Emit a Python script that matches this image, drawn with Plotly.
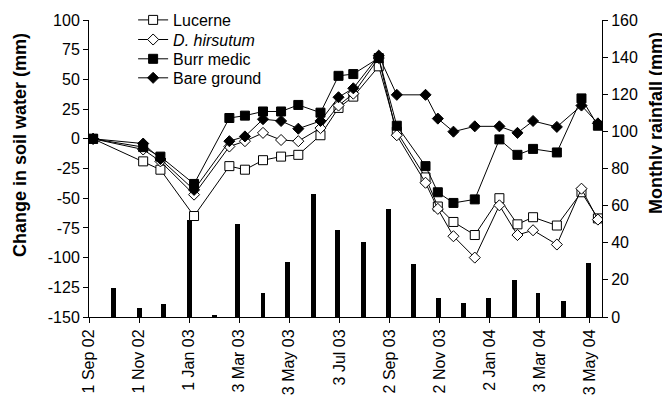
import plotly.graph_objects as go

# ---- data ----
line_dates = ["2002-09-06", "2002-11-06", "2002-11-27", "2003-01-07", "2003-02-19",
              "2003-03-10", "2003-04-01", "2003-04-23", "2003-05-14", "2003-06-10",
              "2003-07-02", "2003-07-20", "2003-08-20", "2003-09-11", "2003-10-16",
              "2003-10-31", "2003-11-19", "2003-12-15", "2004-01-14", "2004-02-05",
              "2004-02-24", "2004-03-24", "2004-04-23", "2004-05-13"]
lucerne = [0, -19, -26, -65, -23, -26, -18, -15, -13.5, 3, 26, 35.5, 61, 6,
           -32.5, -57, -70, -81, -50, -72, -66, -73, -45, -67]
d_hirsutum = [0, -9, -19, -47, -6.5, -2, 5, -1, -2, 9, 28, 38, 68, 3,
              -37, -59, -82, -100, -56, -81, -77, -89, -42, -68]
burr_medic = [0, -7, -15, -38, 17.5, 19.5, 23, 23, 28.5, 22, 53, 54.5, 68, 11,
              -23, -45, -54, -51, -0.5, -13.5, -8.5, -11.5, 34, 11]
bare_ground = [0, -4, -17, -43, -2, 2, 16.5, 15, 8.5, 15, 35, 42.5, 70, 37,
               37, 17, 6, 10.5, 10.5, 5, 15, 10, 28, 13]

rain_dates = ["2002-10-01", "2002-11-01", "2002-12-01", "2003-01-01", "2003-02-01",
              "2003-03-01", "2003-04-01", "2003-05-01", "2003-06-01", "2003-07-01",
              "2003-08-01", "2003-09-01", "2003-10-01", "2003-11-01", "2003-12-01",
              "2004-01-01", "2004-02-01", "2004-03-01", "2004-04-01", "2004-05-01"]
rainfall = [15.5, 5, 7, 52, 1, 50, 13, 29.5, 66.5, 47,
            40.5, 58, 28.5, 10, 7.5, 10, 20, 13, 8.5, 29]

x_tick_dates = ["2002-09-01", "2002-11-01", "2003-01-01", "2003-03-03", "2003-05-03",
                "2003-07-03", "2003-09-02", "2003-11-02", "2004-01-02", "2004-03-03",
                "2004-05-03"]
x_tick_labels = ["1 Sep 02", "1 Nov 02", "1 Jan 03", "3 Mar 03", "3 May 03",
                 "3 Jul 03", "2 Sep 03", "2 Nov 03", "2 Jan 04", "3 Mar 04",
                 "3 May 04"]
left_ticks = [-150, -125, -100, -75, -50, -25, 0, 25, 50, 75, 100]
left_labels = [str(v) for v in left_ticks]
right_ticks = [0, 20, 40, 60, 80, 100, 120, 140, 160]
right_labels = [str(v) for v in right_ticks]

FONT = "Arial, Liberation Sans, sans-serif"
DAY_MS = 86400000

fig = go.Figure()
fig.add_trace(go.Bar(
    x=rain_dates, y=rainfall, yaxis="y", showlegend=False,
    marker=dict(color="black", line=dict(width=0)),
    width=[6 * DAY_MS] * len(rain_dates),
))

series = [
    ("Lucerne", lucerne, "square", "white", 9, "legend"),
    ("<i>D. hirsutum</i>", d_hirsutum, "diamond", "white", 8.5, "legend2"),
    ("Burr medic", burr_medic, "square", "black", 9, "legend3"),
    ("Bare ground", bare_ground, "diamond", "black", 8.5, "legend4"),
]
for name, vals, sym, fill, size, leg in series:
    fig.add_trace(go.Scatter(
        x=line_dates, y=vals, yaxis="y2", mode="lines+markers", name=name,
        legend=leg,
        line=dict(color="black", width=1),
        marker=dict(symbol=sym, size=size, color=fill,
                    line=dict(color="black", width=1)),
    ))

axis_common = dict(showgrid=False, zeroline=False, showline=True,
                   linecolor="black", linewidth=1, ticks="outside",
                   ticklen=5, tickcolor="black", automargin=False,
                   tickfont=dict(family=FONT, size=16, color="black"))

legend_x = 0.086
legend_ys = [1.0, 0.934, 0.869, 0.805]
legend_common = dict(x=legend_x, xanchor="left", yanchor="middle",
                     bgcolor="rgba(0,0,0,0)", borderwidth=0,
                     font=dict(family=FONT, size=16, color="black"))

# the page body adds an 8px offset, so the figure is 8px smaller than the window
fig.update_layout(
    width=662, height=392,
    margin=dict(l=81, r=68, t=12, b=83, autoexpand=False),
    paper_bgcolor="white", plot_bgcolor="white",
    font=dict(family=FONT, size=16, color="black"),
    bargap=0,
    xaxis=dict(type="date", range=["2002-09-01", "2004-05-18"],
               tickmode="array", tickvals=x_tick_dates, ticktext=x_tick_labels,
               tickangle=-90, **axis_common),
    yaxis=dict(side="right", range=[0, 160], tickmode="array",
               tickvals=right_ticks, ticktext=right_labels, **axis_common),
    yaxis2=dict(side="left", overlaying="y", range=[-150, 100], tickmode="array",
                tickvals=left_ticks, ticktext=left_labels, **axis_common),
    legend=dict(y=legend_ys[0], **legend_common),
    legend2=dict(y=legend_ys[1], **legend_common),
    legend3=dict(y=legend_ys[2], **legend_common),
    legend4=dict(y=legend_ys[3], **legend_common),
    annotations=[
        dict(text="<b>Change in soil water (mm)</b>", textangle=-90,
             xref="paper", yref="paper", x=-0.1345, y=0.579,
             xanchor="center", yanchor="middle", showarrow=False,
             font=dict(family=FONT, size=18, color="black")),
        dict(text="<b>Monthly rainfall (mm)</b>", textangle=-90,
             xref="paper", yref="paper", x=1.105, y=0.653,
             xanchor="center", yanchor="middle", showarrow=False,
             font=dict(family=FONT, size=18, color="black")),
    ],
)

fig.write_html("out.html")
